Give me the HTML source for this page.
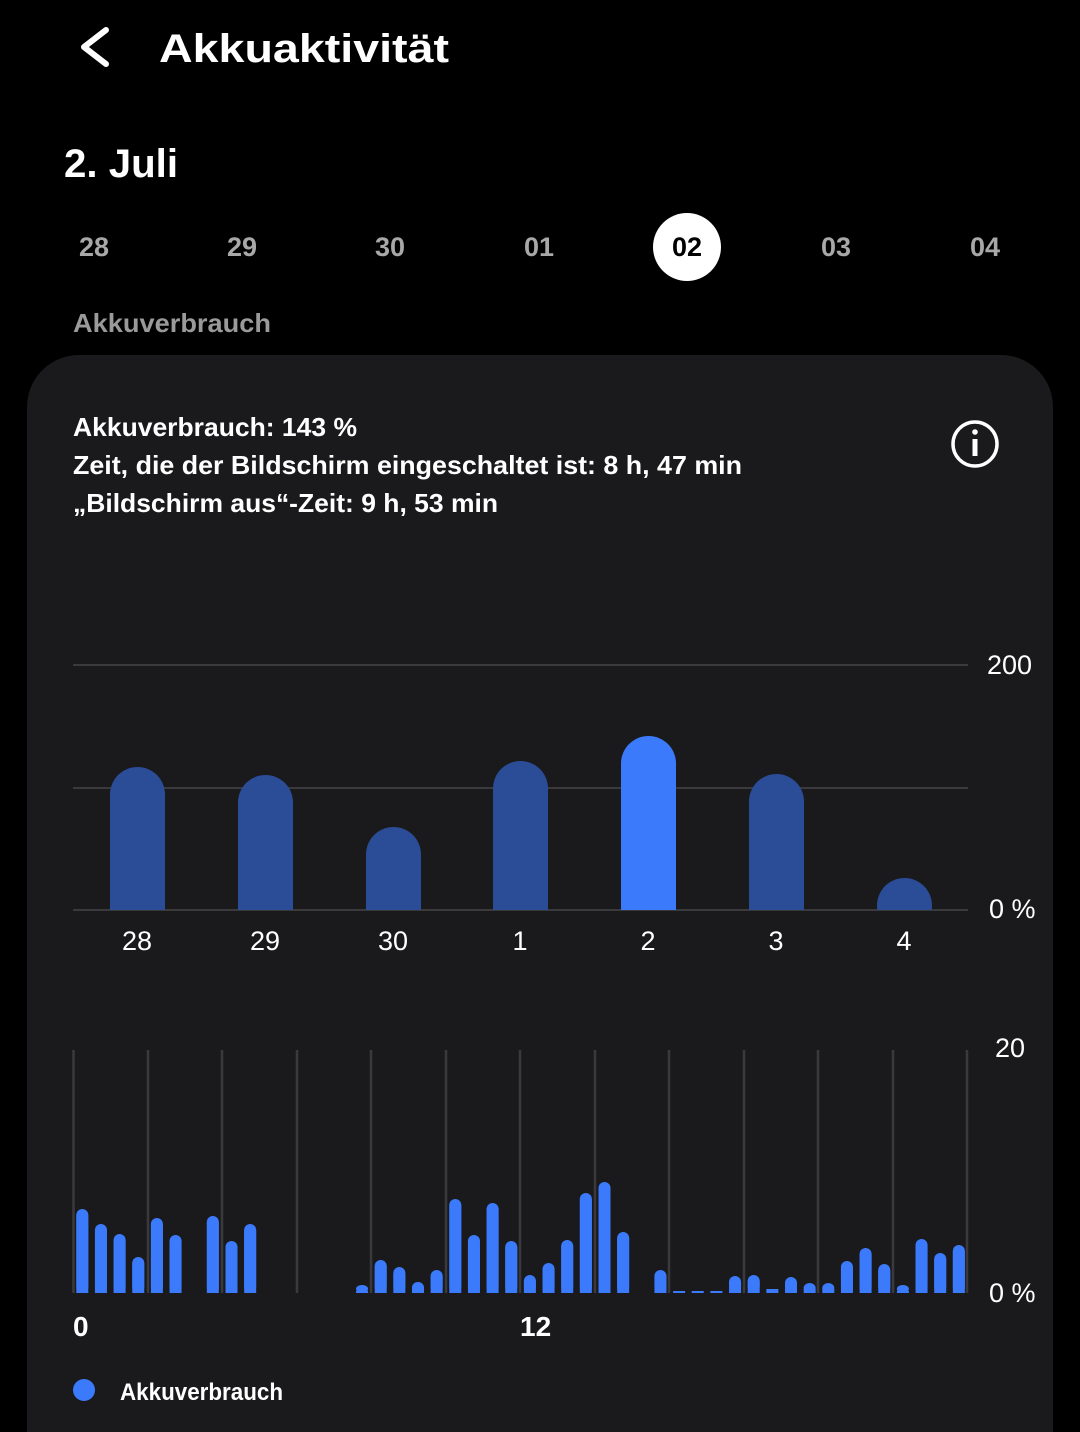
<!DOCTYPE html>
<html><head><meta charset="utf-8"><style>
html,body{margin:0;padding:0;background:#000;width:1080px;height:1432px;overflow:hidden;}
svg{display:block}
text{font-family:"Liberation Sans",sans-serif;}
</style></head><body>
<svg width="1080" height="1432" viewBox="0 0 1080 1432" xmlns="http://www.w3.org/2000/svg">
<defs><clipPath id="c4"><rect x="870" y="870" width="70" height="40"/></clipPath></defs>
<rect width="1080" height="1432" fill="#000"/>
<path d="M106 30 L84 47 L106 64" stroke="#fff" stroke-width="6" fill="none" stroke-linecap="round" stroke-linejoin="round"/>
<text x="159" y="62" fill="#fff" font-size="40" font-weight="bold" textLength="290" lengthAdjust="spacingAndGlyphs">Akkuaktivität</text>
<text x="64" y="177" fill="#fff" font-size="40" font-weight="bold" textLength="114" lengthAdjust="spacingAndGlyphs">2. Juli</text>
<g font-size="27" font-weight="bold" fill="#a8a8a8" text-anchor="middle">
<text x="94" y="256">28</text><text x="242" y="256">29</text><text x="390" y="256">30</text><text x="539" y="256">01</text>
<circle cx="687" cy="247" r="34" fill="#fff"/>
<text x="687" y="256" fill="#000">02</text>
<text x="836" y="256">03</text><text x="985" y="256">04</text>
</g>
<text x="73" y="332" fill="#9a9a9a" font-size="26" font-weight="bold" textLength="198" lengthAdjust="spacingAndGlyphs">Akkuverbrauch</text>
<rect x="27" y="355" width="1026" height="1140" rx="52" fill="#1a1a1c"/>
<g fill="#fff" font-size="26" font-weight="bold">
<text x="73" y="436" textLength="284" lengthAdjust="spacingAndGlyphs">Akkuverbrauch: 143 %</text>
<text x="73" y="474" textLength="669" lengthAdjust="spacingAndGlyphs">Zeit, die der Bildschirm eingeschaltet ist: 8 h, 47 min</text>
<text x="73" y="512" textLength="425" lengthAdjust="spacingAndGlyphs">„Bildschirm aus“-Zeit: 9 h, 53 min</text>
</g>
<circle cx="975" cy="444" r="22" fill="none" stroke="#fff" stroke-width="3.5"/>
<circle cx="975" cy="432" r="2.8" fill="#fff"/>
<rect x="972.5" y="439" width="5" height="17" fill="#fff"/>
<g stroke="#3a3a3c" stroke-width="2">
<line x1="73" y1="665" x2="968" y2="665"/><line x1="73" y1="788" x2="968" y2="788"/><line x1="73" y1="910" x2="968" y2="910"/>
</g>
<g fill="#fff" font-size="27">
<text x="987" y="674">200</text><text x="989" y="918">0 %</text>
<text x="995" y="1057">20</text><text x="989" y="1302">0 %</text>
</g>
<g fill="#2b4c96">
<rect x="110" y="767" width="55" height="143" rx="27.5"/><rect x="110" y="800" width="55" height="110"/>
<rect x="238" y="775" width="55" height="135" rx="27.5"/><rect x="238" y="800" width="55" height="110"/>
<rect x="366" y="827" width="55" height="83" rx="27.5"/><rect x="366" y="860" width="55" height="50"/>
<rect x="493" y="761" width="55" height="149" rx="27.5"/><rect x="493" y="800" width="55" height="110"/>
<rect x="749" y="774" width="55" height="136" rx="27.5"/><rect x="749" y="800" width="55" height="110"/>
<circle cx="904.5" cy="905.5" r="27.5" clip-path="url(#c4)"/>
</g>
<rect x="621" y="736" width="55" height="174" rx="27.5" fill="#3b7bfb"/><rect x="621" y="770" width="55" height="140" fill="#3b7bfb"/>
<g fill="#fff" font-size="27" text-anchor="middle">
<text x="137" y="950">28</text><text x="265" y="950">29</text><text x="393" y="950">30</text><text x="520" y="950">1</text><text x="648" y="950">2</text><text x="776" y="950">3</text><text x="904" y="950">4</text>
</g>
<g stroke="#3a3a3c" stroke-width="2.5">
<line x1="73.5" y1="1050" x2="73.5" y2="1293"/><line x1="148" y1="1050" x2="148" y2="1293"/><line x1="222" y1="1050" x2="222" y2="1293"/><line x1="297" y1="1050" x2="297" y2="1293"/><line x1="371" y1="1050" x2="371" y2="1293"/><line x1="446" y1="1050" x2="446" y2="1293"/><line x1="520" y1="1050" x2="520" y2="1293"/><line x1="595" y1="1050" x2="595" y2="1293"/><line x1="669" y1="1050" x2="669" y2="1293"/><line x1="744" y1="1050" x2="744" y2="1293"/><line x1="818" y1="1050" x2="818" y2="1293"/><line x1="893" y1="1050" x2="893" y2="1293"/><line x1="967" y1="1050" x2="967" y2="1293"/>
</g>
<g fill="#3b7bfb" id="bars"></g>
<text x="73" y="1336" fill="#fff" font-size="28" font-weight="bold">0</text>
<text x="520" y="1336" fill="#fff" font-size="28" font-weight="bold">12</text>
<circle cx="84" cy="1390" r="11" fill="#3b7bfb"/>
<text x="120" y="1400" fill="#fff" font-size="24" font-weight="bold" textLength="163" lengthAdjust="spacingAndGlyphs">Akkuverbrauch</text>
</svg>
<script>
var tops=[1209,1224,1234,1257,1218,1235,0,1216,1241,1224,0,0,0,0,0,1285,1260,1267,1282,1270,1199,1235,1203,1241,1275,1263,1240,1193,1182,1232,0,1270,1291,1291,1291,1276,1275,1289,1277,1283,1283,1261,1248,1264,1285,1239,1253,1245];
var g=document.getElementById('bars'),s='';
for(var i=0;i<48;i++){var t=tops[i];if(!t)continue;var c=82.3+18.65*i,x=c-6,h=1293-t;
if(h<=4){s+='<rect x="'+x+'" y="'+t+'" width="12" height="'+h+'"/>';continue;}
s+='<rect x="'+x+'" y="'+t+'" width="12" height="'+h+'" rx="6"/><rect x="'+x+'" y="'+(t+6)+'" width="12" height="'+(h-6)+'"/>';}
g.innerHTML=s;
</script>
</body></html>
